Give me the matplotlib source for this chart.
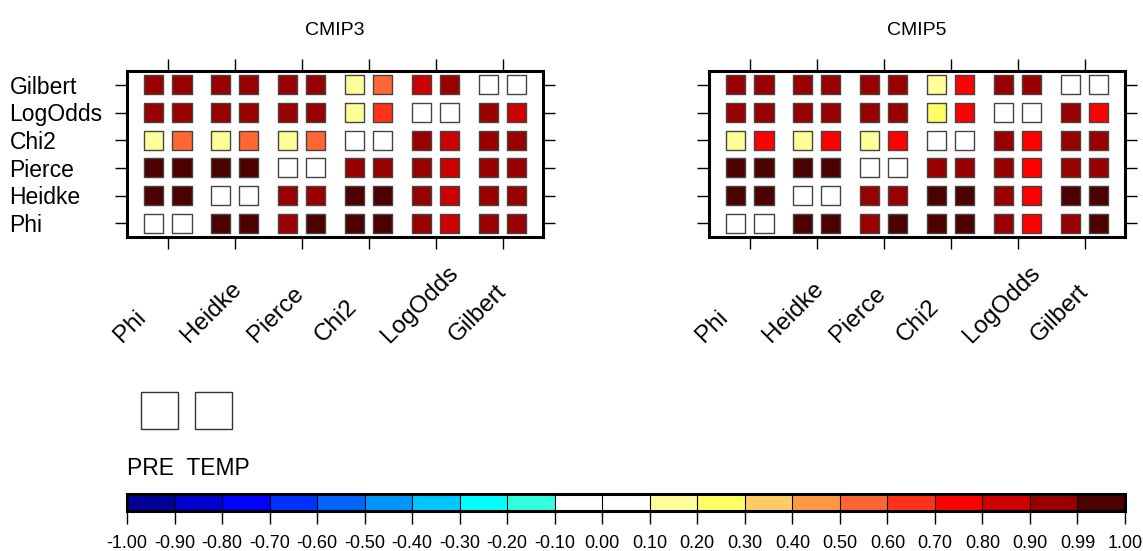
import numpy as np
import matplotlib
matplotlib.use("Agg")
import matplotlib.pyplot as plt
from matplotlib.colors import ListedColormap, BoundaryNorm
from matplotlib.cm import ScalarMappable
from matplotlib.patches import Rectangle
from matplotlib.transforms import ScaledTranslation

plt.rcParams["font.family"] = ["Liberation Sans", "DejaVu Sans"]

scores = ["Phi", "Heidke", "Pierce", "Chi2", "LogOdds", "Gilbert"]
# rows listed top to bottom as shown: Gilbert ... Phi; columns Phi ... Gilbert
row_names = ["Gilbert", "LogOdds", "Chi2", "Pierce", "Heidke", "Phi"]
nan = np.nan

cmip3_pre = [
    [0.94, 0.93, 0.93, 0.16, 0.86, nan],
    [0.95, 0.95, 0.94, 0.17, nan, 0.93],
    [0.15, 0.15, 0.16, nan, 0.93, 0.93],
    [0.995, 0.995, nan, 0.94, 0.92, 0.93],
    [0.995, nan, 0.94, 0.995, 0.93, 0.93],
    [nan, 0.995, 0.94, 0.995, 0.92, 0.93],
]
cmip3_temp = [
    [0.93, 0.93, 0.92, 0.56, 0.93, nan],
    [0.94, 0.94, 0.93, 0.63, nan, 0.87],
    [0.55, 0.55, 0.56, nan, 0.86, 0.92],
    [0.995, 0.995, nan, 0.93, 0.86, 0.92],
    [0.995, nan, 0.93, 0.995, 0.86, 0.92],
    [nan, 0.995, 0.995, 0.995, 0.86, 0.92],
]
cmip5_pre = [
    [0.94, 0.93, 0.93, 0.16, 0.93, nan],
    [0.95, 0.95, 0.94, 0.22, nan, 0.92],
    [0.15, 0.15, 0.16, nan, 0.93, 0.93],
    [0.995, 0.995, nan, 0.94, 0.92, 0.93],
    [0.995, nan, 0.94, 0.995, 0.92, 0.995],
    [nan, 0.995, 0.94, 0.995, 0.92, 0.93],
]
cmip5_temp = [
    [0.93, 0.93, 0.92, 0.74, 0.92, nan],
    [0.94, 0.94, 0.93, 0.75, nan, 0.76],
    [0.75, 0.74, 0.75, nan, 0.77, 0.92],
    [0.995, 0.995, nan, 0.93, 0.76, 0.92],
    [0.995, nan, 0.93, 0.995, 0.76, 0.995],
    [nan, 0.995, 0.995, 0.995, 0.76, 0.995],
]

levels = [-1.0, -0.9, -0.8, -0.7, -0.6, -0.5, -0.4, -0.3, -0.2, -0.1, 0.0,
          0.1, 0.2, 0.3, 0.4, 0.5, 0.6, 0.7, 0.8, 0.9, 0.99, 1.0]
colors = ["#000096", "#0000cd", "#0000ff", "#0032ff", "#0064ff", "#0096ff",
          "#00c8ff", "#00ffff", "#32ffdc", "#ffffff", "#ffffff", "#ffff99",
          "#ffff66", "#ffcc66", "#ff9944", "#ff6633", "#ff3319", "#ff0000",
          "#cc0000", "#990000", "#4c0000"]

cmap = ListedColormap(colors).with_extremes(bad="white")
norm = BoundaryNorm(levels, cmap.N)

W, H = 1143, 551
fig = plt.figure(figsize=(W / 100, H / 100), dpi=100)


def px_axes(x0, y0, x1, y1):
    return fig.add_axes([x0 / W, 1 - y1 / H, (x1 - x0) / W, (y1 - y0) / H])


def panel(ax, pre, temp, title, show_rows):
    pre = np.array(pre)[::-1]
    temp = np.array(temp)[::-1]
    cols, rows = np.meshgrid(np.arange(6), np.arange(6))
    for vals, dx in ((pre, -0.21), (temp, 0.21)):
        ax.scatter((cols + dx).ravel(), rows.ravel(), c=vals.ravel(), cmap=cmap,
                   norm=norm, marker="s", s=190, edgecolors="#444444",
                   linewidths=1.0, plotnonfinite=True, zorder=3)
    ax.set_xlim(-0.61, 5.6)
    ax.set_ylim(-0.5, 5.5)
    ax.set_xticks(range(6))
    ax.set_yticks(range(6))
    ax.tick_params(direction="out", length=8.6, width=1, top=True, right=True,
                   labelbottom=False, labelleft=False)
    for sp in ax.spines.values():
        sp.set_linewidth(2.2)
    if show_rows:
        ax.set_yticklabels(row_names[::-1])
        ax.tick_params(axis="y", labelleft=True, pad=76, labelsize=16.5)
        for lab in ax.get_yticklabels():
            lab.set_horizontalalignment("left")
    off = ScaledTranslation(-0.46, -1.06, fig.dpi_scale_trans)
    for i, name in enumerate(scores):
        ax.text(i, 0, name, transform=ax.get_xaxis_transform() + off,
                rotation=45, rotation_mode="anchor", ha="left", va="baseline",
                fontsize=17.5)
    bb = ax.get_position()
    fig.text(bb.x0 + bb.width / 2, 1 - 35 / H, title, ha="center",
             va="baseline", fontsize=14)


ax1 = px_axes(127, 71, 543, 237)
ax2 = px_axes(709, 71, 1125, 237)
panel(ax1, cmip3_pre, cmip3_temp, "CMIP3", True)
panel(ax2, cmip5_pre, cmip5_temp, "CMIP5", False)

# legend boxes for PRE / TEMP
for x0 in (141, 195):
    fig.add_artist(Rectangle((x0 / W, 1 - 429 / H), 37 / W, 37 / H,
                             transform=fig.transFigure, facecolor="white",
                             edgecolor="#333333", linewidth=1.0))
fig.text(127 / W, 1 - 475 / H, "PRE  TEMP", ha="left", va="baseline",
         fontsize=16.5)

cax = px_axes(127, 494, 1125, 511)
cb = fig.colorbar(ScalarMappable(norm=norm, cmap=cmap), cax=cax,
                  orientation="horizontal", spacing="uniform", ticks=levels,
                  drawedges=True)
cb.ax.set_xticklabels(["%.2f" % v for v in levels])
cb.outline.set_linewidth(2.2)
cb.dividers.set_linewidth(0.8)
cb.ax.tick_params(direction="out", length=9.4, width=1, labelsize=13, pad=8)

fig.savefig("out.png", dpi=100)
